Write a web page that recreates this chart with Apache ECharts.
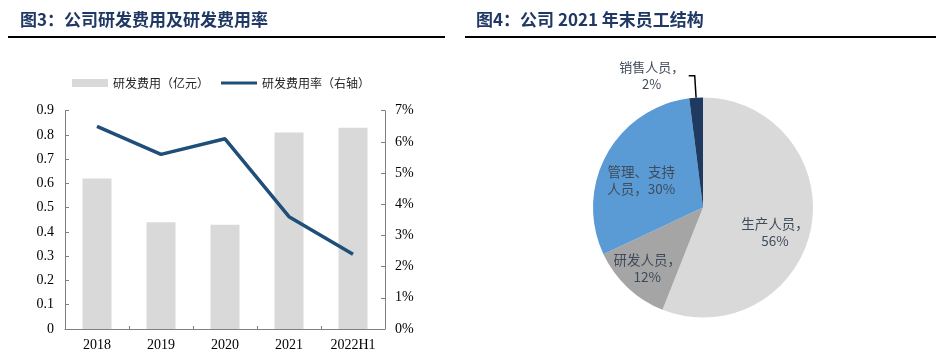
<!DOCTYPE html>
<html><head><meta charset="utf-8">
<script src="https://cdn.jsdelivr.net/npm/echarts@6/dist/echarts.min.js"></script>
<style>html,body{margin:0;padding:0;background:#fff}#c{width:936px;height:355px}</style>
</head><body><div id="c"></div>
<script>
// ---- data ----
const categories = ['2018', '2019', '2020', '2021', '2022H1'];
const rdExpense = [0.62, 0.44, 0.43, 0.81, 0.83];      // 亿元
const rdRate = [6.5, 5.6, 6.1, 3.6, 2.4];              // %
const leftAxisMax = 0.9;
const leftAxisStep = 0.1;
const rightAxisMax = 7;
const rightAxisStep = 1;
const staffNames = ['生产人员', '研发人员', '管理、支持人员', '销售人员'];
const staffShare = [56, 12, 30, 2];                    // %
const legendNames = ['研发费用（亿元）', '研发费用率（右轴）'];
const titleLeft = '图3：公司研发费用及研发费用率';
const titleRight = '图4：公司 2021 年末员工结构';

// ---- style ----
const SERIF = '"Liberation Serif","Times New Roman",serif';
const CJK = '"Noto Sans CJK SC","Noto Sans",sans-serif';
const pieColors = ['#D9D9D9', '#A5A5A5', '#5B9BD5', '#1F3A60'];
const pieLabelShift = [[15, 14], [-16, 19], [-11, 1], [0, 0]];

const chart = echarts.init(document.getElementById('c'), null, {renderer: 'canvas'});
const axisLineStyle = {color: '#808080', width: 1};

chart.setOption({
  backgroundColor: '#fff',
  animation: false,
  title: [
    {text: titleLeft, left: 20, top: 11, padding: 0,
     textStyle: {fontFamily: CJK, fontSize: 17, fontWeight: 'bold', color: '#1F3864'}},
    {text: titleRight, left: 476, top: 11, padding: 0,
     textStyle: {fontFamily: CJK, fontSize: 17, fontWeight: 'bold', color: '#1F3864'}}
  ],
  graphic: [
    {type: 'line', shape: {x1: 8, y1: 37, x2: 445, y2: 37}, style: {stroke: '#000', lineWidth: 2}},
    {type: 'line', shape: {x1: 465, y1: 37, x2: 936, y2: 37}, style: {stroke: '#000', lineWidth: 2}}
  ],
  legend: {
    left: 72, top: 77, padding: 0,
    itemWidth: 36, itemHeight: 8, itemGap: 12,
    textStyle: {fontFamily: CJK, fontSize: 12, color: '#222'},
    data: [{name: legendNames[0], icon: 'rect'},
           {name: legendNames[1], icon: 'path://M0,0H36V3H0Z'}]
  },
  grid: {left: 65, right: 551, top: 110.7, bottom: 26, containLabel: false},
  xAxis: {
    type: 'category', data: categories, boundaryGap: true,
    axisLine: {show: true, lineStyle: axisLineStyle},
    axisTick: {show: true, inside: true, length: 3, lineStyle: axisLineStyle},
    axisLabel: {fontFamily: SERIF, fontSize: 14, color: '#000', margin: 9}
  },
  yAxis: [
    {type: 'value', min: 0, max: leftAxisMax, interval: leftAxisStep,
     axisLine: {show: true, lineStyle: axisLineStyle},
     axisTick: {show: true, inside: true, length: 4, lineStyle: axisLineStyle},
     splitLine: {show: false},
     axisLabel: {fontFamily: SERIF, fontSize: 14, color: '#000', margin: 11,
       formatter: v => (v === 0 ? '0' : v.toFixed(1))}},
    {type: 'value', min: 0, max: rightAxisMax, interval: rightAxisStep, position: 'right',
     axisLine: {show: true, lineStyle: axisLineStyle},
     axisTick: {show: true, inside: true, length: 4, lineStyle: axisLineStyle},
     splitLine: {show: false},
     axisLabel: {fontFamily: SERIF, fontSize: 14, color: '#000', margin: 10,
       formatter: v => Math.round(v) + '%'}}
  ],
  series: [
    {name: legendNames[0], type: 'bar', yAxisIndex: 0, data: rdExpense,
     barWidth: 29, itemStyle: {color: '#D9D9D9'}},
    {name: legendNames[1], type: 'line', yAxisIndex: 1, data: rdRate,
     symbol: 'none', lineStyle: {color: '#1F4E79', width: 3.5}, itemStyle: {color: '#1F4E79'}},
    {type: 'pie', center: [703, 207.5], radius: 110, startAngle: 90, clockwise: true,
     avoidLabelOverlap: false,
     data: staffNames.map((n, i) => ({
       name: n, value: staffShare[i], itemStyle: {color: pieColors[i]},
       label: i === 3 ? {
         position: 'outside',
         formatter: p => '{c|' + p.name + '，}\n{c|' + p.value + '%}',
         rich: {c: {width: 64, align: 'center', fontFamily: CJK, fontSize: 13, color: '#3F4B5B', lineHeight: 17}}
       } : {position: 'inside'},
       labelLine: i === 3 ? {show: true, length: 22, length2: 6, lineStyle: {color: '#000', width: 1.5}} : {show: false}
     })),
     label: {
       fontFamily: CJK, fontSize: 13.5, color: '#3F4B5B', lineHeight: 17, align: 'center',
       formatter: p => p.name === '管理、支持人员'
         ? '管理、支持\n人员，' + p.value + '%'
         : p.name + '，\n' + p.value + '%'
     },
     labelLayout: p => {
       const s = pieLabelShift[p.dataIndex];
       return (s[0] || s[1]) ? {dx: s[0], dy: s[1]} : {};
     },
     emphasis: {disabled: true}
    }
  ]
});
</script>
</body></html>
